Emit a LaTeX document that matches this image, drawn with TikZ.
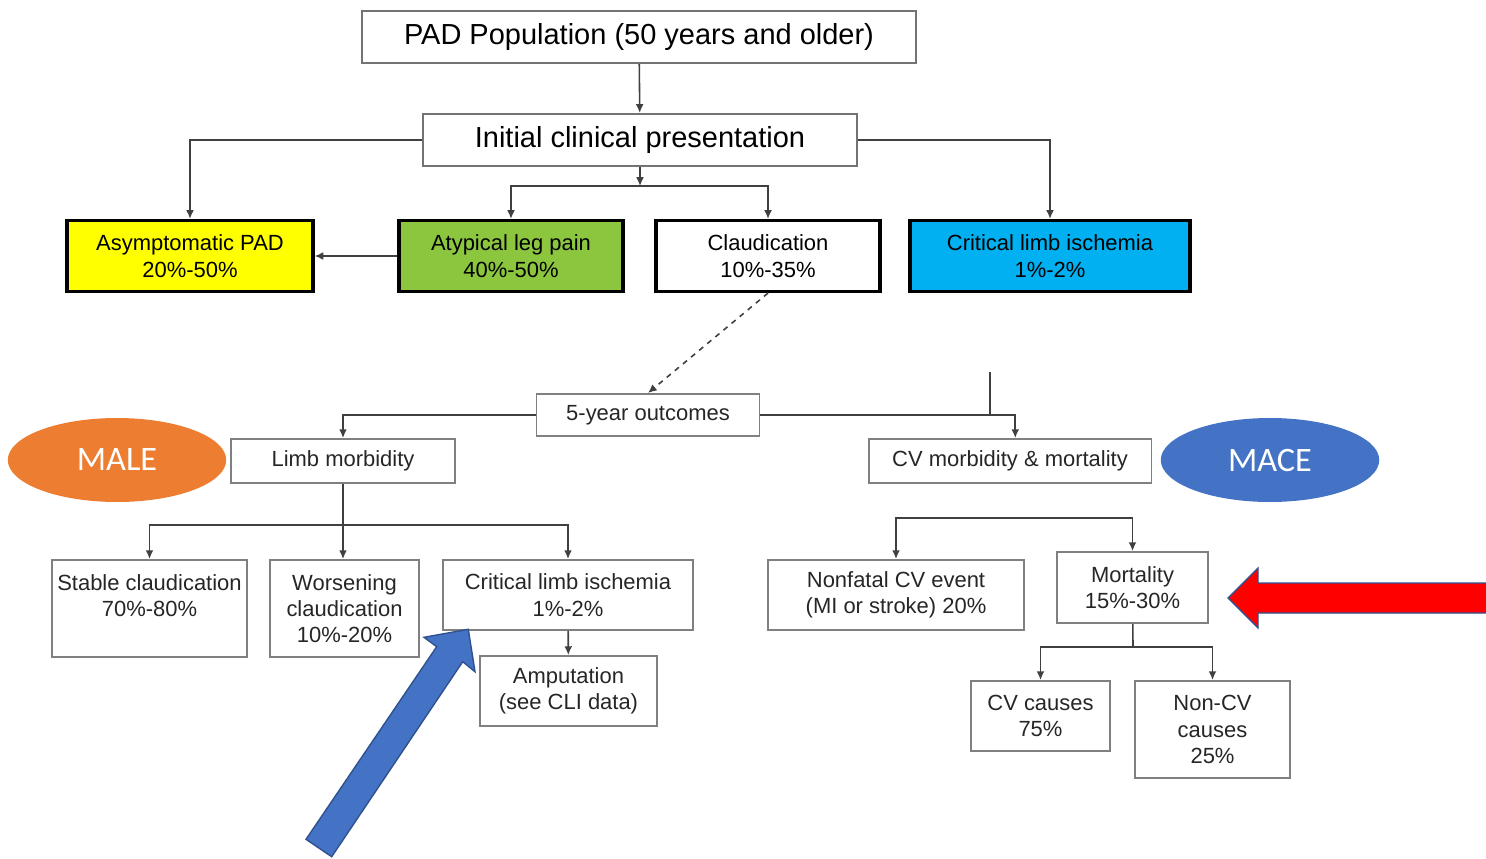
\documentclass[tikz,border=0pt]{standalone}
\usepackage{fontspec}
\setmainfont{Liberation Sans}
\newfontfamily\tagfont{Carlito}
\usetikzlibrary{shapes.geometric,arrows.meta}

\definecolor{padyellow}{HTML}{FFFF00}
\definecolor{padgreen}{HTML}{8CC63F}
\definecolor{padblue}{HTML}{00B0F0}
\definecolor{maleorange}{HTML}{ED7D31}
\definecolor{maceblue}{HTML}{4472C4}
\definecolor{arrowedge}{HTML}{2F528F}
\definecolor{alertred}{HTML}{FF0000}

\tikzset{
  headbox/.style={draw=black!55, line width=1.2pt, minimum height=1.04cm, inner sep=0pt,
    font=\fontsize{16.5}{19}\selectfont},
  presentbox/.style={draw=black, line width=1.8pt, minimum height=1.42cm, inner sep=0pt,
    align=center, font=\fontsize{12.5}{15}\selectfont},
  outcomebox/.style={draw=black!50, line width=1.1pt, inner sep=0pt, align=center,
    text=black!85, font=\fontsize{12.5}{15}\selectfont},
  tagnode/.style={ellipse, minimum width=4.37cm, minimum height=1.68cm, inner sep=0pt,
    text=white, font=\tagfont\fontsize{19.5}{22}\selectfont},
  link/.style={draw=black!75, line width=0.9pt},
  tipped/.style={-{Latex[length=5pt,width=4.5pt]}}
}

\begin{document}
\begin{tikzpicture}[x=0.02cm, y=-0.02cm]
\useasboundingbox (0,0) rectangle (1486,858);

\node[headbox, minimum width=11.08cm] (pop) at (639,37) {PAD Population (50 years and older)};
\node[headbox, minimum width=8.68cm] (init) at (640,140) {Initial clinical presentation};

\node[presentbox, fill=padyellow, minimum width=4.92cm] (asym) at (190,256) {Asymptomatic PAD\\20\%-50\%};
\node[presentbox, fill=padgreen, minimum width=4.48cm] (atyp) at (511,256) {Atypical leg pain\\40\%-50\%};
\node[presentbox, fill=white, minimum width=4.48cm] (claud) at (768,256) {Claudication\\10\%-35\%};
\node[presentbox, fill=padblue, minimum width=5.6cm] (clitop) at (1050,256) {Critical limb ischemia\\1\%-2\%};

\node[outcomebox, minimum width=4.46cm, minimum height=0.84cm] (out) at (648,415) {5-year outcomes};
\node[outcomebox, minimum width=4.48cm, minimum height=0.88cm] (limb) at (343,461) {Limb morbidity};
\node[outcomebox, minimum width=5.66cm, minimum height=0.88cm] (cvm) at (1010,461) {CV morbidity \& mortality};

\node[tagnode, fill=maleorange] (male) at (117,460) {MALE};
\node[tagnode, fill=maceblue] (mace) at (1270,460) {MACE};

\node[outcomebox, minimum width=3.9cm, minimum height=1.94cm] (stable) at (149.5,608.5) {Stable claudication\\70\%-80\%\\~};
\node[outcomebox, minimum width=2.98cm, minimum height=1.94cm] (worse) at (344.5,608.5) {Worsening\\claudication\\10\%-20\%};
\node[outcomebox, minimum width=5cm, minimum height=1.4cm] (cli) at (568,595) {Critical limb ischemia\\1\%-2\%};
\node[outcomebox, minimum width=3.54cm, minimum height=1.4cm] (amp) at (568.5,691) {Amputation\\(see CLI data)};

\node[outcomebox, minimum width=5.12cm, minimum height=1.4cm] (nonfatal) at (896,595) {Nonfatal CV event\\(MI or stroke) 20\%};
\node[outcomebox, minimum width=3.02cm, minimum height=1.42cm] (mort) at (1132.5,587.5) {Mortality\\15\%-30\%};
\node[outcomebox, minimum width=2.78cm, minimum height=1.4cm] (cvc) at (1040.5,716) {CV causes\\75\%};
\node[outcomebox, minimum width=3.1cm, minimum height=1.94cm] (noncv) at (1212.5,729.5) {Non-CV\\causes\\25\%};

\coordinate (ptop) at (640,186);
\coordinate (stray) at (990,372);
\coordinate (plimb) at (343,525);
\coordinate (pcv) at (1015,518);
\coordinate (pmort) at (1133,647);

\begin{scope}[link, tipped]
\draw (pop) -- (init);
\draw (init.west) -| (asym.north);
\draw (init.east) -| (clitop.north);
\draw (init) -- (ptop);
\draw (ptop) -| (atyp.north);
\draw (ptop) -| (claud.north);
\draw (atyp) -- (asym);
\draw[dashed] (claud.south) -- (out.north);
\draw (out.west) -| (limb.north);
\draw (out.east) -| ([xshift=3]cvm.north);
\draw (plimb) -| (stable.north);
\draw (plimb) -- (worse.north -| plimb);
\draw (plimb) -| (cli.north);
\draw (cli) -- (amp);
\draw (pcv) -| (nonfatal.north);
\draw (pcv) -| (mort.north);
\draw (pmort) -| (cvc.north);
\draw (pmort) -| (noncv.north);
\end{scope}

\begin{scope}[link]
\draw (limb) -- (plimb);
\draw (mort) -- (pmort);
\draw (stray) -- (stray |- out.east);
\end{scope}

\filldraw[fill=maceblue, draw=arrowedge, line width=0.8pt]
  (306,839.3) -- (436.7,646.7) -- (424,637.3) -- (468.3,629.3) -- (475,671.7)
  -- (462.7,661.7) -- (331.7,856.7) -- cycle;
\filldraw[fill=alertred, draw=arrowedge, line width=0.8pt]
  (1228,598) -- (1258,568) -- (1258,583) -- (1492,583) -- (1492,613) -- (1258,613)
  -- (1258,628) -- cycle;
\end{tikzpicture}
\end{document}
